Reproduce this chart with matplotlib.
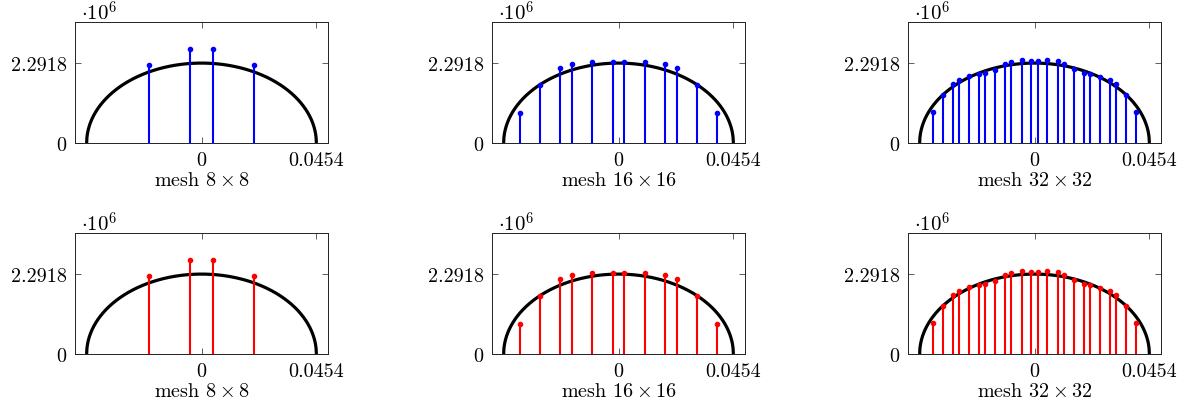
import matplotlib

matplotlib.use("Agg")

import matplotlib.pyplot as plt
import numpy as np

# Hertz contact: peak pressure (x1e6) and contact half-width
p_peak = 2.2918
half_width = 0.0454

mesh_labels = [r"mesh $8 \times 8$", r"mesh $16 \times 16$", r"mesh $32 \times 32$"]

x_8 = [-0.0207, -0.0047, 0.0047, 0.0207]
p_8 = [2.23, 2.71, 2.71, 2.23]

x_16 = [-0.0388, -0.0310, -0.0231, -0.0184, -0.0103, -0.0023,
        0.0023, 0.0103, 0.0184, 0.0231, 0.0310, 0.0388]
p_16 = [0.86, 1.67, 2.16, 2.27, 2.32, 2.32,
        2.32, 2.32, 2.27, 2.16, 1.67, 0.86]

x_32 = [-0.0400, -0.0361, -0.0321, -0.0299, -0.0258, -0.0218,
        -0.0195, -0.0155, -0.0116, -0.0092, -0.0051, -0.0012,
        0.0012, 0.0051, 0.0092, 0.0116, 0.0155, 0.0195,
        0.0218, 0.0258, 0.0299, 0.0321, 0.0361, 0.0400]
p_32 = [0.89, 1.37, 1.69, 1.80, 1.91, 1.99,
        2.02, 2.10, 2.26, 2.33, 2.37, 2.35,
        2.35, 2.37, 2.34, 2.26, 2.11, 2.01,
        1.99, 1.90, 1.80, 1.70, 1.37, 0.88]

mesh_x = [x_8, x_16, x_32]
mesh_p = [p_8, p_16, p_32]
row_colors = ["#0000ff", "#ff0000"]

plt.rcParams["font.family"] = "cmr10"
plt.rcParams["mathtext.fontset"] = "cm"
plt.rcParams["axes.unicode_minus"] = False
plt.rcParams["font.size"] = 14.5

fig = plt.figure(figsize=(11.91, 4.10), dpi=100)

lefts = [75 / 1191, 492 / 1191, 908 / 1191]
bottoms = [1 - 144 / 410, 1 - 355 / 410]
width = 253 / 1191
height = 121 / 410

# analytical Hertz pressure profile
xs = np.linspace(-half_width, half_width, 801)
ps = p_peak * np.sqrt(np.clip(1 - (xs / half_width) ** 2, 0, None))

for row, color in enumerate(row_colors):
	for col in range(3):
		ax = fig.add_axes([lefts[col], bottoms[row], width, height])
		ax.plot(xs, ps, color="black", lw=2.3, zorder=2, solid_capstyle="butt")
		ax.vlines(mesh_x[col], 0, mesh_p[col], color=color, lw=1.5, zorder=3)
		ax.plot(mesh_x[col], mesh_p[col], "o", color=color, ms=3.0, zorder=4)

		ax.set_xlim(-0.05, 0.05)
		ax.set_ylim(0, 3.47)
		ax.set_xticks([0, half_width])
		ax.set_xticklabels(["0", "0.0454"])
		ax.set_yticks([0, p_peak])
		ax.set_yticklabels(["0", "2.2918"])
		ax.tick_params(direction="in", length=4.5, width=0.6, color="#444444",
		               top=True, right=True, labelsize=14.5)
		ax.tick_params(axis="x", pad=6)
		ax.tick_params(axis="y", pad=6)
		for spine in ax.spines.values():
			spine.set_linewidth(0.7)
			spine.set_color("#222222")
		ax.set_xlabel(mesh_labels[col], labelpad=1)
		ax.text(0.022, 1.02, r"$\cdot 10^6$", transform=ax.transAxes,
		        ha="left", va="baseline", fontsize=15)

fig.savefig("out.png", dpi=100)
plt.close(fig)
